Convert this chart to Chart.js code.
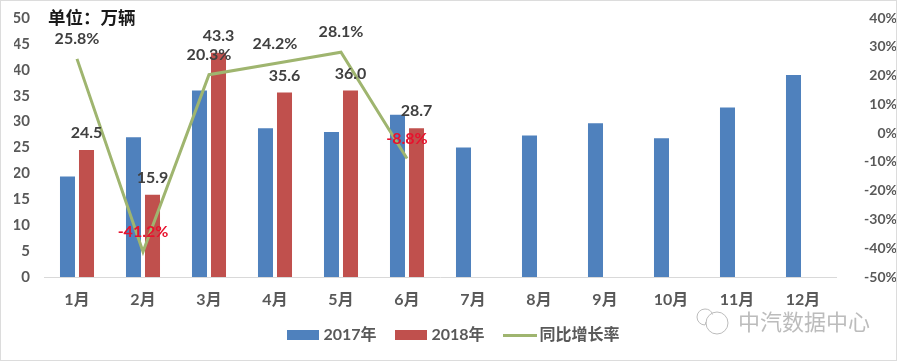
<!DOCTYPE html>
<html>
<head>
<meta charset="utf-8">
<style>
  html, body { margin: 0; padding: 0; background: #fff; }
  canvas { display: block; }
</style>
<script src="https://cdn.jsdelivr.net/npm/chart.js@4/dist/chart.umd.min.js"></script>
</head>
<body>
<canvas id="ventasChart" width="897" height="361"></canvas>
<script>
const meses = ["1月", "2月", "3月", "4月", "5月", "6月", "7月", "8月", "9月", "10月", "11月", "12月"];
const ventas2017 = [19.4, 27.0, 36.0, 28.7, 28.0, 31.3, 25.0, 27.3, 29.7, 26.8, 32.7, 39.0];
const ventas2018 = [24.5, 15.9, 43.3, 35.6, 36.0, 28.7];
const crecimiento = [25.8, -41.2, 20.3, 24.2, 28.1, -8.8];

const fontFamily = "Lato, 'Noto Sans CJK SC', sans-serif";
const azul = "#4f81bd";
const rojo = "#c0504d";
const verde = "#9fb56f";
const gris = "#595959";

// muestras de la leyenda
function muestra(w, h, color) {
  const c = document.createElement("canvas");
  c.width = w;
  c.height = h;
  const g = c.getContext("2d");
  g.fillStyle = color;
  g.fillRect(0, 0, w, h);
  return c;
}

// Ancho fijo del eje, sin el margen vertical que añade el padding de los ticks
function ajustarEje(ancho) {
  return function (scale) {
    scale.width = ancho;
    scale.paddingTop = 0;
    scale.paddingBottom = 0;
  };
}

// Etiquetas, unidad, marca de agua y borde
const extras = {
  id: "extras",
  beforeDraw(chart) {
    // el eje recorta sus etiquetas a su propia caja
    chart.scales.x.bottom = chart.scales.x.top + 40;
  },
  afterDatasetsDraw(chart) {
    const { ctx } = chart;
    ctx.save();
    ctx.textAlign = "center";
    ctx.textBaseline = "middle";

    ctx.font = "bold 16px " + fontFamily;
    ctx.fillStyle = "#404040";
    chart.getDatasetMeta(1).data.forEach((bar, i) => {
      ctx.fillText(ventas2018[i].toFixed(1), bar.x, bar.y - 17);
    });
    chart.getDatasetMeta(2).data.forEach((pt, i) => {
      ctx.fillStyle = crecimiento[i] < 0 ? "#e8112d" : "#404040";
      ctx.fillText(crecimiento[i].toFixed(1) + "%", pt.x, pt.y - 20);
    });

    ctx.textAlign = "left";
    ctx.fillStyle = "#1a1a1a";
    ctx.font = "bold 17.5px " + fontFamily;
    ctx.fillText("单位：万辆", 48, 18);

    // marca de agua
    ctx.fillStyle = "#bcbcbc";
    ctx.font = "22px 'Noto Sans CJK SC', sans-serif";
    ctx.fillText("中汽数据中心", 738, 322);
    ctx.strokeStyle = "#bcbcbc";
    ctx.lineWidth = 1;
    ctx.beginPath();
    ctx.arc(717, 323, 11, 0, Math.PI * 2);
    ctx.moveTo(706, 322);
    ctx.arc(705, 317, 8, Math.PI * 0.5, Math.PI * 1.9);
    ctx.stroke();

    ctx.strokeStyle = "#dcdcdc";
    ctx.lineWidth = 1;
    ctx.strokeRect(0.5, 0.5, 896, 360);
    ctx.restore();
  }
};

const ventasChart = new Chart(document.getElementById("ventasChart").getContext("2d"), {
  type: "bar",
  plugins: [extras],
  data: {
    labels: meses,
    datasets: [
      { label: "2017年", data: ventas2017, backgroundColor: azul, yAxisID: "y", order: 2 },
      { label: "2018年", data: ventas2018, backgroundColor: rojo, yAxisID: "y", order: 2 },
      {
        type: "line",
        label: "同比增长率",
        data: crecimiento,
        borderColor: verde,
        borderWidth: 3,
        pointRadius: 0,
        tension: 0,
        yAxisID: "y1",
        order: 1
      }
    ]
  },
  options: {
    responsive: false,
    animation: false,
    categoryPercentage: 0.576,
    barPercentage: 0.79,
    layout: { padding: { top: 18, bottom: 8, left: 14 } },
    plugins: {
      tooltip: { enabled: false },
      legend: {
        position: "bottom",
        labels: {
          usePointStyle: true,
          pointStyleWidth: 24,
          padding: 23,
          color: gris,
          font: { family: fontFamily, size: 16, weight: "bold" },
          generateLabels(chart) {
            return chart.data.datasets.map((d, i) => ({
              text: d.label,
              datasetIndex: i,
              fontColor: gris,
              pointStyle: i === 2 ? muestra(34, 3, verde) : muestra(32, 10, d.backgroundColor)
            }));
          }
        }
      }
    },
    scales: {
      x: {
        grid: { display: false, drawTicks: false },
        border: { color: "#d9d9d9" },
        ticks: {
          color: gris,
          padding: 13,
          maxRotation: 0,
          font: { family: fontFamily, size: 16, weight: "bold" }
        },
        afterFit(scale) { scale.height = 27; }
      },
      y: {
        position: "left",
        min: 0,
        max: 50,
        grid: { display: false, drawTicks: false },
        border: { display: false },
        ticks: {
          stepSize: 5,
          color: gris,
          padding: 14,
          font: { family: fontFamily, size: 15, weight: "bold" }
        },
        afterFit: ajustarEje(30)
      },
      y1: {
        position: "right",
        min: -50,
        max: 40,
        grid: { display: false, drawTicks: false },
        border: { display: false },
        ticks: {
          stepSize: 10,
          color: gris,
          padding: 19,
          crossAlign: "far",
          font: { family: fontFamily, size: 14, weight: "bold" },
          callback: (v) => v + "%"
        },
        afterFit: ajustarEje(61)
      }
    }
  }
});
</script>
</body>
</html>
